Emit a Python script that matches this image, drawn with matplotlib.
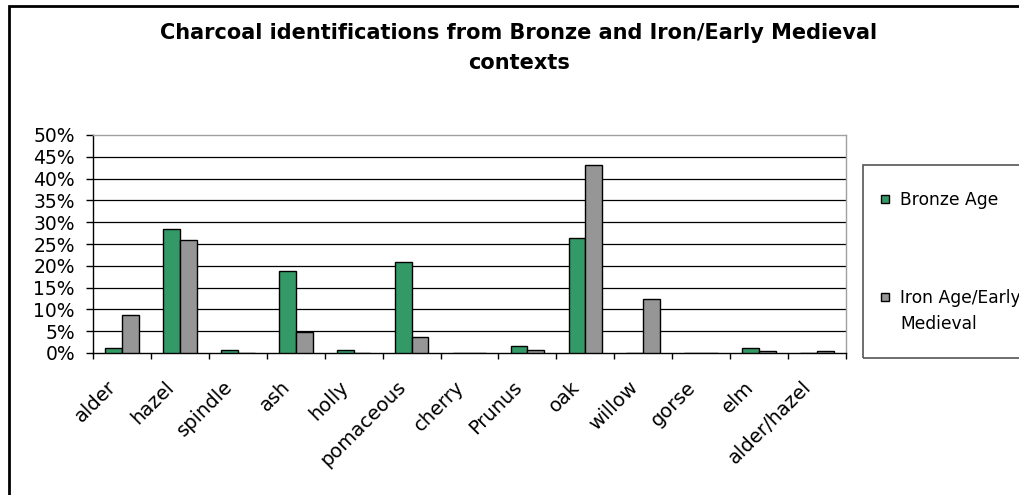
import numpy as np
import matplotlib
matplotlib.use('Agg')
import matplotlib.pyplot as plt
from matplotlib.patches import Rectangle
from matplotlib.ticker import FixedLocator, FuncFormatter
from matplotlib.transforms import ScaledTranslation

plt.rcParams['font.family'] = ['DejaVu Sans']

# percentages of charcoal fragments per taxon
taxa = ['alder', 'hazel', 'spindle', 'ash', 'holly', 'pomaceous', 'cherry',
        'Prunus', 'oak', 'willow', 'gorse', 'elm', 'alder/hazel']
bronze_age = [1.2, 28.4, 0.8, 18.8, 0.8, 20.8, 0.0, 1.5, 26.4, 0.0, 0.0, 1.2, 0.0]
iron_age_early_med = [8.8, 26.0, 0.0, 4.8, 0.0, 3.6, 0.0, 0.8, 43.2, 12.4, 0.0, 0.4, 0.4]
series_names = ['Bronze Age', 'Iron Age/Early\nMedieval']
series_colors = ['#339966', '#969696']

fig = plt.figure(figsize=(10.2, 4.95), dpi=100)
ax = fig.add_axes([93 / 1020, 1 - 353 / 495, (846 - 93) / 1020, (353 - 135) / 495])

x = np.arange(len(taxa))
w = 0.29
ax.bar(x - w / 2, bronze_age, w, color=series_colors[0], edgecolor='black', linewidth=1.0, zorder=3)
ax.bar(x + w / 2, iron_age_early_med, w, color=series_colors[1], edgecolor='black', linewidth=1.0, zorder=3)

ax.set_xlim(-0.5, len(taxa) - 0.5)
ax.set_ylim(0, 50)
ax.set_yticks(np.arange(0, 51, 5))
ax.yaxis.set_major_formatter(FuncFormatter(lambda v, p: f'{v:.0f}%'))
ax.tick_params(axis='y', labelsize=13.5, length=5, width=1, pad=8, direction='out')
for v in range(5, 50, 5):
    ax.axhline(v, color='black', linewidth=0.9, zorder=1)

# category boundaries get the tick marks, names sit at the centres
ax.xaxis.set_major_locator(FixedLocator(np.arange(-0.5, len(taxa), 1)))
ax.xaxis.set_minor_locator(FixedLocator(x))
ax.set_xticklabels([])
ax.set_xticklabels(taxa, minor=True, rotation=45, ha='right', rotation_mode='anchor')
ax.tick_params(axis='x', which='major', length=4.5, width=1, direction='out')
ax.tick_params(axis='x', which='minor', length=0, labelsize=14, pad=14)
shift = ScaledTranslation(-0.15, -0.05, fig.dpi_scale_trans)
for lab in ax.xaxis.get_minorticklabels():
    lab.set_transform(lab.get_transform() + shift)

ax.spines['left'].set_color('black')
ax.spines['bottom'].set_color('black')
ax.spines['top'].set_color('#a0a0a0')
ax.spines['right'].set_color('#a0a0a0')
for s in ax.spines.values():
    s.set_linewidth(1.0)

fig.text(519 / 1020, 1 - 33 / 495, 'Charcoal identifications from Bronze and Iron/Early Medieval',
         ha='center', va='center', fontsize=15, fontweight='bold')
fig.text(519 / 1020, 1 - 63 / 495, 'contexts',
         ha='center', va='center', fontsize=15, fontweight='bold')

# outer chart border and legend frame
fig.patches.append(Rectangle((9 / 1020, -0.1), 1.2, 1.1 - 6 / 495, transform=fig.transFigure,
                             fill=False, edgecolor='black', linewidth=2))
fig.patches.append(Rectangle((863 / 1020, 1 - 358 / 495), 0.3, (358 - 165) / 495,
                             transform=fig.transFigure, fill=False, edgecolor='#555555', linewidth=1.2))

# legend entries: square key + name, first text line level with the key
key_y = [199, 297]
for name, col, ky in zip(series_names, series_colors, key_y):
    fig.patches.append(Rectangle((881 / 1020, 1 - (ky + 4) / 495), 8 / 1020, 8 / 495,
                                 transform=fig.transFigure, facecolor=col,
                                 edgecolor='black', linewidth=1.0))
    fig.text(900 / 1020, 1 - (ky - 8) / 495, name, ha='left', va='top', fontsize=12.3,
             linespacing=1.55)

fig.savefig('out.png', dpi=100)
